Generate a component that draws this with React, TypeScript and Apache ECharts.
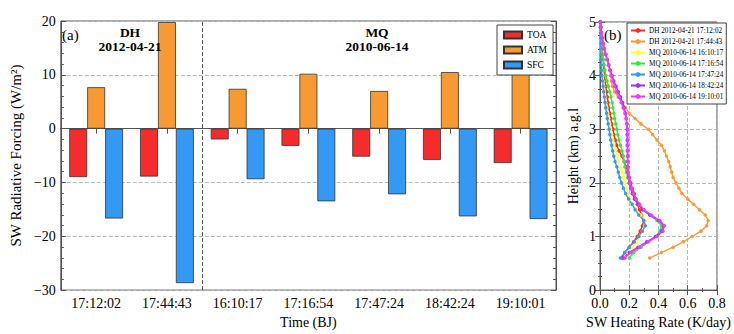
import React, { useEffect, useRef } from "react";
import * as echarts from "echarts";

const categories = ["17:12:02", "17:44:43", "16:10:17", "17:16:54", "17:47:24", "18:42:24", "19:10:01"];
const toa = [-9.0, -8.9, -2.0, -3.2, -5.2, -5.8, -6.4];
const atm = [7.7, 19.8, 7.4, 10.2, 7.0, 10.5, 10.3];
const sfc = [-16.7, -28.7, -9.4, -13.5, -12.2, -16.3, -16.8];
const separatorAt = [2];

const heights = [
  0.6, 0.7, 0.8, 0.9, 1.0, 1.1, 1.2, 1.3, 1.4, 1.5, 1.6, 1.7, 1.8, 1.9, 2.0,
  2.1, 2.2, 2.3, 2.4, 2.5, 2.6, 2.7, 2.8, 2.9, 3.0, 3.1, 3.2, 3.3, 3.4, 3.5,
  3.6, 3.7, 3.8, 3.9, 4.0, 4.1, 4.2, 4.3, 4.4, 4.5, 4.6, 4.7, 4.8, 4.9, 5.0,
];
const profileNames = [
  "DH 2012-04-21 17:12:02",
  "DH 2012-04-21 17:44:43",
  "MQ 2010-06-14 16:10:17",
  "MQ 2010-06-14 17:16:54",
  "MQ 2010-06-14 17:47:24",
  "MQ 2010-06-14 18:42:24",
  "MQ 2010-06-14 19:10:01",
];
const rateDH1 = [
  0.15, 0.17, 0.2, 0.23, 0.255, 0.275, 0.29, 0.3, 0.285, 0.27, 0.255, 0.245, 0.235, 0.22, 0.21,
  0.2, 0.19, 0.18, 0.165, 0.15, 0.13, 0.115, 0.105, 0.095, 0.09, 0.08, 0.075, 0.068, 0.06, 0.055,
  0.05, 0.045, 0.04, 0.035, 0.03, 0.027, 0.024, 0.02, 0.017, 0.014, 0.011, 0.008, 0.006, 0.004, 0.002,
];
const rateDH2 = [
  0.34, 0.42, 0.5, 0.57, 0.63, 0.69, 0.73, 0.74, 0.72, 0.68, 0.64, 0.6, 0.56, 0.54, 0.52,
  0.5, 0.49, 0.48, 0.47, 0.455, 0.44, 0.42, 0.39, 0.36, 0.33, 0.28, 0.24, 0.2, 0.175, 0.15,
  0.125, 0.1, 0.085, 0.078, 0.073, 0.068, 0.062, 0.05, 0.035, 0.025, 0.018, 0.012, 0.008, 0.005, 0.003,
];
const rateMQ1 = [
  0.17, 0.19, 0.22, 0.25, 0.27, 0.29, 0.305, 0.31, 0.28, 0.245, 0.225, 0.205, 0.19, 0.18, 0.17,
  0.16, 0.15, 0.138, 0.125, 0.115, 0.105, 0.095, 0.088, 0.08, 0.073, 0.066, 0.06, 0.053, 0.047, 0.04,
  0.035, 0.03, 0.026, 0.022, 0.019, 0.016, 0.014, 0.012, 0.01, 0.008, 0.006, 0.005, 0.004, 0.003, 0.002,
];
const rateMQ2 = [
  0.2, 0.23, 0.28, 0.33, 0.38, 0.41, 0.42, 0.39, 0.34, 0.3, 0.27, 0.245, 0.225, 0.21, 0.2,
  0.19, 0.18, 0.17, 0.165, 0.16, 0.15, 0.14, 0.13, 0.122, 0.115, 0.108, 0.1, 0.095, 0.088, 0.083,
  0.075, 0.066, 0.057, 0.048, 0.04, 0.034, 0.028, 0.023, 0.018, 0.013, 0.01, 0.008, 0.006, 0.004, 0.002,
];
const rateMQ3 = [
  0.14, 0.17, 0.2, 0.235, 0.265, 0.29, 0.31, 0.3, 0.265, 0.24, 0.22, 0.195, 0.175, 0.16, 0.147,
  0.135, 0.125, 0.115, 0.103, 0.094, 0.086, 0.08, 0.073, 0.067, 0.062, 0.056, 0.05, 0.045, 0.039, 0.034,
  0.03, 0.025, 0.021, 0.017, 0.013, 0.011, 0.009, 0.008, 0.007, 0.006, 0.005, 0.004, 0.003, 0.002, 0.001,
];
const rateMQ4 = [
  0.16, 0.2, 0.26, 0.32, 0.38, 0.42, 0.435, 0.4, 0.34, 0.29, 0.26, 0.235, 0.22, 0.21, 0.2,
  0.195, 0.19, 0.19, 0.188, 0.188, 0.187, 0.186, 0.186, 0.185, 0.185, 0.183, 0.18, 0.175, 0.165, 0.155,
  0.14, 0.125, 0.11, 0.095, 0.083, 0.07, 0.06, 0.05, 0.04, 0.03, 0.022, 0.015, 0.01, 0.006, 0.003,
];
const rateMQ5 = [
  0.17, 0.21, 0.27, 0.33, 0.39, 0.43, 0.44, 0.41, 0.35, 0.3, 0.27, 0.245, 0.228, 0.215, 0.205,
  0.198, 0.193, 0.19, 0.19, 0.19, 0.19, 0.19, 0.19, 0.19, 0.19, 0.185, 0.178, 0.17, 0.158, 0.145,
  0.13, 0.115, 0.1, 0.088, 0.078, 0.067, 0.057, 0.047, 0.038, 0.03, 0.022, 0.015, 0.01, 0.006, 0.003,
];
const profiles = [rateDH1, rateDH2, rateMQ1, rateMQ2, rateMQ3, rateMQ4, rateMQ5];
const profileColors = ["#ff2a2a", "#ff9933", "#ffff33", "#33ee33", "#3399ff", "#9933ff", "#ff33ff"];

const FONT = "'Liberation Serif', 'Times New Roman', serif";

export default function App() {
  const ref = useRef<HTMLDivElement>(null);
  useEffect(() => {
    if (!ref.current) return;
    const chart = echarts.init(ref.current, undefined, { renderer: "svg" });
    const axisLine = { show: true, lineStyle: { color: "#555", width: 1 } };
    const dashed = { show: true, lineStyle: { color: "#bbb", type: "dashed", width: 1 } };
    const label = { color: "#000", fontFamily: FONT, fontSize: 14 };
    const tick = { show: true, inside: true, length: 5, lineStyle: { color: "#555" } };
    const option: any = {
      animation: false,
      backgroundColor: "#fff",
      textStyle: { fontFamily: FONT },
      grid: [
        { left: 57, top: 21, width: 499, height: 279, show: true, borderColor: "#555", borderWidth: 1 },
        { left: 600, top: 22, width: 125, height: 278, show: true, borderColor: "#555", borderWidth: 1 },
      ],
      xAxis: [
        {
          type: "category", gridIndex: 0, data: categories, position: "bottom",
          axisLine, axisTick: { ...tick, alignWithLabel: true },
          axisLabel: { ...label, margin: 6 },
          splitLine: { show: false },
          name: "Time (BJ)", nameLocation: "middle", nameGap: 21,
          nameTextStyle: { ...label },
        },
        {
          type: "category", gridIndex: 0, data: categories, position: "top",
          axisLine, axisTick: { ...tick, alignWithLabel: true },
          axisLabel: { show: false }, splitLine: { show: false },
        },
        {
          type: "value", gridIndex: 0, min: 0, max: 7, show: false,
        },
        {
          type: "value", gridIndex: 1, min: 0, max: 0.8, interval: 0.2, position: "bottom",
          axisLine, axisTick: tick,
          minorTick: { show: true, splitNumber: 2, length: 2, lineStyle: { color: "#555" } },
          axisLabel: { ...label, formatter: (v: number) => v.toFixed(1), margin: 6 },
          splitLine: dashed,
          name: "SW Heating Rate (K/day)", nameLocation: "middle", nameGap: 21,
          nameTextStyle: { ...label },
        },
        {
          type: "value", gridIndex: 1, min: 0, max: 0.8, interval: 0.2, position: "top",
          axisLine, axisTick: tick,
          minorTick: { show: true, splitNumber: 2, length: 2, lineStyle: { color: "#555" } },
          axisLabel: { show: false }, splitLine: { show: false },
        },
      ],
      yAxis: [
        {
          type: "value", gridIndex: 0, min: -30, max: 20, interval: 10, position: "left",
          axisLine, axisTick: tick,
          minorTick: { show: true, splitNumber: 5, length: 3, lineStyle: { color: "#555" } },
          axisLabel: { ...label, margin: 5, formatter: (v: number) => String(v).replace("-", "\u2212") },
          splitLine: dashed,
          name: "SW Radiative Forcing (W/m²)", nameLocation: "middle", nameGap: 33,
          nameTextStyle: { ...label, fontSize: 15 },
        },
        {
          type: "value", gridIndex: 0, min: -30, max: 20, interval: 10, position: "right",
          axisLine, axisTick: tick,
          minorTick: { show: true, splitNumber: 5, length: 3, lineStyle: { color: "#555" } },
          axisLabel: { show: false }, splitLine: { show: false },
        },
        {
          type: "value", gridIndex: 1, min: 0, max: 5, interval: 1, position: "left",
          axisLine, axisTick: tick,
          minorTick: { show: true, splitNumber: 4, length: 2, lineStyle: { color: "#555" } },
          axisLabel: { ...label, margin: 4 },
          splitLine: dashed,
          name: "Height (km) a.g.l", nameLocation: "middle", nameGap: 20,
          nameTextStyle: { ...label },
        },
        {
          type: "value", gridIndex: 1, min: 0, max: 5, interval: 1, position: "right",
          axisLine, axisTick: tick,
          minorTick: { show: true, splitNumber: 4, length: 2, lineStyle: { color: "#555" } },
          axisLabel: { show: false }, splitLine: { show: false },
        },
      ],
      legend: [
        {
          data: ["TOA", "ATM", "SFC"], orient: "vertical", left: 497, top: 25,
          itemWidth: 18, itemHeight: 7, itemGap: 5, padding: [5, 6, 5, 6],
          borderColor: "#444", borderWidth: 1, backgroundColor: "#fff",
          textStyle: { fontFamily: FONT, fontSize: 9.5, color: "#000" },
          icon: "rect",
        },
        {
          data: profileNames, orient: "vertical", left: 627, top: 23,
          itemWidth: 14, itemHeight: 6, itemGap: 4, padding: [4, 3, 4, 3],
          borderColor: "#444", borderWidth: 1, backgroundColor: "#fff",
          textStyle: { fontFamily: FONT, fontSize: 7.2, color: "#000", padding: [0, 0, 0, -1] },
        },
      ],
      graphic: [
        { type: "text", z: 100, x: 62, y: 27, style: { text: "(a)", font: `15px ${FONT}`, fill: "#000" } },
        { type: "text", z: 100, x: 604, y: 27, style: { text: "(b)", font: `15px ${FONT}`, fill: "#000" } },
        { type: "text", z: 100, x: 130, y: 25, style: { text: "DH", font: `bold 13.5px ${FONT}`, fill: "#000", textAlign: "center", align: "center" } },
        { type: "text", z: 100, x: 130, y: 39, style: { text: "2012-04-21", font: `bold 13.5px ${FONT}`, fill: "#000", textAlign: "center", align: "center" } },
        { type: "text", z: 100, x: 377, y: 25, style: { text: "MQ", font: `bold 13.5px ${FONT}`, fill: "#000", textAlign: "center", align: "center" } },
        { type: "text", z: 100, x: 377, y: 39, style: { text: "2010-06-14", font: `bold 13.5px ${FONT}`, fill: "#000", textAlign: "center", align: "center" } },
      ],
      series: [
        {
          name: "TOA", type: "bar", xAxisIndex: 0, yAxisIndex: 0, data: toa,
          barGap: "0%", barCategoryGap: "24%",
          itemStyle: { color: "#f42c2c", borderColor: "#333", borderWidth: 0.8 },
        },
        {
          name: "ATM", type: "bar", xAxisIndex: 0, yAxisIndex: 0, data: atm,
          barGap: "0%", barCategoryGap: "24%",
          itemStyle: { color: "#f79a33", borderColor: "#333", borderWidth: 0.8 },
        },
        {
          name: "SFC", type: "bar", xAxisIndex: 0, yAxisIndex: 0, data: sfc,
          barGap: "0%", barCategoryGap: "24%",
          itemStyle: { color: "#3399f5", borderColor: "#333", borderWidth: 0.8 },
        },
        {
          name: "separator", type: "line", xAxisIndex: 2, yAxisIndex: 0, data: [],
          markLine: {
            silent: true, symbol: "none", label: { show: false },
            lineStyle: { color: "#555", type: "dashed", width: 1 },
            data: separatorAt.map((v) => ({ xAxis: v })),
          },
        },
        ...profiles.map((p, i) => ({
          name: profileNames[i], type: "line", xAxisIndex: 3, yAxisIndex: 2,
          data: heights.map((h, j) => [p[j], h]),
          symbol: "circle", symbolSize: 3.5,
          lineStyle: { color: profileColors[i], width: 1.4 },
          itemStyle: { color: profileColors[i] },
        })),
      ],
    };
    chart.setOption(option);
    return () => chart.dispose();
  }, []);
  return <div ref={ref} style={{ position: "absolute", left: 0, top: 0, width: 734, height: 334 }} />;
}
